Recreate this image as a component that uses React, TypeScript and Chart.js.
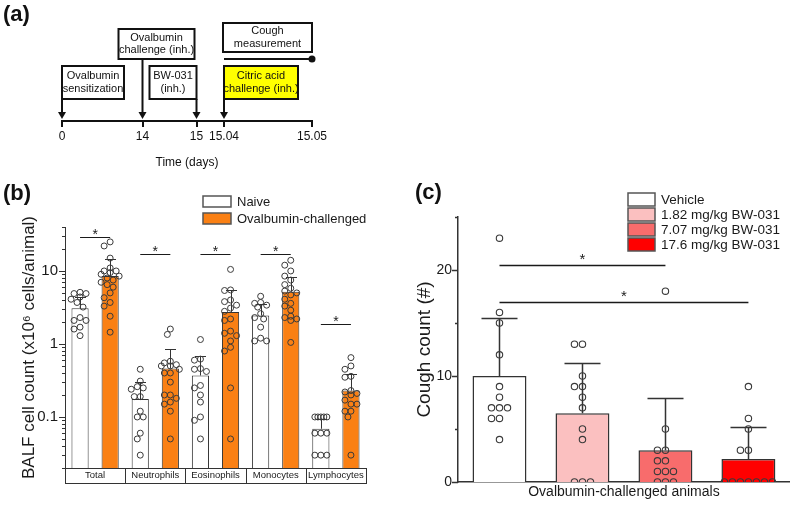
import React, { useEffect, useRef } from 'react';
import { Chart, registerables } from 'chart.js';

Chart.register(...registerables);

const FONT = "'Liberation Sans', Arial, Helvetica, sans-serif";
Chart.defaults.font.family = FONT;
Chart.defaults.color = '#1a1a1a';

// ================= DATA =================
// Panel (a): timeline
const timelineTickLabels = ['0', '14', '15', '15.04', '15.05'];
const timelineAxisTitle = 'Time (days)';
const sensitizationText = ['Ovalbumin', 'sensitization'];
const challengeText = ['Ovalbumin', 'challenge (inh.)'];
const drugText = ['BW-031', '(inh.)'];
const citricText = ['Citric acid', 'challenge (inh.)'];
const coughMeasureText = ['Cough', 'measurement'];

// Panel (b): BALF cell counts (x10^6 cells/animal)
const cellTypes = ['Total', 'Neutrophils', 'Eosinophils', 'Monocytes', 'Lymphocytes'];
const groupLabelsB = ['Naive', 'Ovalbumin-challenged'];
const naiveMeans = [3.08, 0.176, 0.37, 2.45, 0.069];
const naiveErrUpper = [4.4, 0.3, 0.68, 3.5, 0.095];
const ovaMeans = [8.55, 0.46, 2.75, 5.2, 0.23];
const ovaErrUpper = [14.4, 0.85, 5.5, 8.3, 0.39];
const naivePoints = [
  [5.1, 4.9, 4.9, 4.4, 4.1, 3.7, 3.2, 2.3, 2.1, 2.1, 1.7, 1.6, 1.3],
  [0.45, 0.31, 0.26, 0.25, 0.24, 0.19, 0.19, 0.12, 0.1, 0.1, 0.06, 0.05, 0.03],
  [1.15, 0.62, 0.6, 0.46, 0.45, 0.42, 0.27, 0.25, 0.2, 0.16, 0.1, 0.09, 0.05],
  [4.5, 3.7, 3.6, 3.4, 3.2, 2.6, 2.3, 2.2, 1.7, 1.2, 1.1, 1.1],
  [0.1, 0.1, 0.1, 0.1, 0.1, 0.06, 0.06, 0.06, 0.03, 0.03, 0.03],
];
const ovaPoints = [
  [25, 22, 15, 11, 10, 10, 9.5, 9, 8.5, 8, 7.5, 7, 6.5, 6, 5, 4.3, 3.7, 3.3, 2.4, 1.45],
  [1.6, 1.35, 0.58, 0.55, 0.52, 0.5, 0.5, 0.45, 0.4, 0.4, 0.3, 0.2, 0.2, 0.18, 0.16, 0.15, 0.12, 0.05],
  [10.5, 5.5, 5.4, 4.0, 3.8, 3.4, 3.1, 2.8, 2.2, 2.1, 1.5, 1.4, 1.3, 1.1, 0.9, 0.8, 0.25, 0.05],
  [14, 12, 10, 8.5, 7.5, 6.5, 5.8, 5.3, 5, 4.7, 4.1, 3.6, 3.3, 2.9, 2.4, 2.3, 2.2, 2.1, 1.05],
  [0.65, 0.5, 0.45, 0.36, 0.35, 0.23, 0.22, 0.21, 0.2, 0.17, 0.15, 0.15, 0.12, 0.12, 0.1, 0.03],
];
const cellYTickLabels = [0.1, 1, 10];
const cellYRange = [0.02, 40];
const cellSigHeights = [29, 17, 17, 17, 1.9];
const cellYTitle = 'BALF cell count (x10\u2076 cells/animal)';

// Panel (c): cough counts
const coughGroups = ['Vehicle', '1.82 mg/kg BW-031', '7.07 mg/kg BW-031', '17.6 mg/kg BW-031'];
const coughMeans = [10, 6.48, 2.99, 2.17];
const coughErrUpper = [15.5, 11.26, 7.96, 5.22];
const coughPoints = [
  [23, 16, 15, 12, 9, 8, 7, 7, 7, 6, 6, 4],
  [13, 13, 10, 9, 9, 8, 7, 5, 4, 0, 0, 0],
  [18, 5, 3, 3, 2, 2, 1, 1, 1, 0, 0, 0],
  [9, 6, 5, 3, 3, 0, 0, 0, 0, 0, 0, 0],
];
const coughYTickLabels = [0, 10, 20];
const coughYRange = [0, 25];
const coughSigFrom = [0, 0];
const coughSigTo = [2, 3];
const coughSigHeights = [20.5, 17];
const coughYTitle = 'Cough count (#)';
const coughXTitle = 'Ovalbumin-challenged animals';

// ================= STYLES =================
const ORANGE = '#FA8014';
const coughColors = ['#FFFFFF', '#FBC0C0', '#F86C6C', '#FF0000'];
const EDGE = '#333333';

// ================= PLUGINS (closure-configured) =================
function panelLabelPlugin(text: string, x: number, y: number) {
  return {
    id: 'panelLabel',
    afterDraw(chart: any) {
      const ctx = chart.ctx;
      ctx.save();
      ctx.font = `bold 22px ${FONT}`;
      ctx.fillStyle = '#111';
      ctx.textAlign = 'left';
      ctx.textBaseline = 'middle';
      ctx.fillText(text, x, y);
      ctx.restore();
    },
  };
}

const swarmPlugin = {
  id: 'swarm',
  afterDatasetsUpdate(chart: any) {
    chart.data.datasets.forEach((ds: any, i: number) => {
      const sw = ds.swarm;
      if (!sw) return;
      const barEl = chart.getDatasetMeta(sw.bar).data[sw.index];
      if (!barEl) return;
      const cx = barEl.x;
      const meta = chart.getDatasetMeta(i);
      const placed: { x: number; y: number }[] = [];
      meta.data.forEach((el: any) => {
        let best = 0;
        let bestScore = -Infinity;
        for (let k = 0; k <= sw.maxK * 2; k++) {
          const off = k === 0 ? 0 : (k % 2 ? -1 : 1) * Math.ceil(k / 2) * sw.step;
          const minD = placed.reduce((m, p) => Math.min(m, Math.hypot(p.x - off, p.y - el.y)), Infinity);
          if (minD >= sw.dist) {
            best = off;
            break;
          }
          if (minD > bestScore) {
            bestScore = minD;
            best = off;
          }
        }
        placed.push({ x: best, y: el.y });
        el.x = cx + best;
      });
    });
  },
};

const errorBarPlugin = {
  id: 'errorBars',
  afterDatasetDraw(chart: any, args: any) {
    const ds = chart.data.datasets[args.index];
    if (!ds.errorUpper) return;
    const meta = args.meta;
    const ys = chart.scales[meta.yAxisID];
    const ctx = chart.ctx;
    ctx.save();
    ctx.strokeStyle = ds.errorColor || EDGE;
    ctx.lineWidth = ds.errorWidth || 1;
    meta.data.forEach((el: any, j: number) => {
      const top = Math.round(ys.getPixelForValue(ds.errorUpper[j])) + 0.5;
      const x = Math.round(el.x) + 0.5;
      const cap = ds.errorCap || 10;
      ctx.beginPath();
      ctx.moveTo(x, el.y);
      ctx.lineTo(x, top);
      ctx.moveTo(x - cap / 2, top);
      ctx.lineTo(x + cap / 2, top);
      ctx.stroke();
    });
    ctx.restore();
  },
};

function sigPlugin(o: any) {
  return {
    id: 'sig',
    afterDatasetsDraw(chart: any) {
      const ys = chart.scales.y;
      const ctx = chart.ctx;
      ctx.save();
      ctx.strokeStyle = o.color;
      ctx.fillStyle = o.color;
      ctx.lineWidth = o.lineWidth;
      ctx.font = `${o.fontSize}px ${FONT}`;
      ctx.textAlign = 'center';
      ctx.textBaseline = 'alphabetic';
      for (const it of o.items) {
        const x1 = chart.getDatasetMeta(it.a[0]).data[it.a[1]].x;
        const x2 = chart.getDatasetMeta(it.b[0]).data[it.b[1]].x;
        const y = Math.round(ys.getPixelForValue(it.y)) + 0.5;
        ctx.beginPath();
        ctx.moveTo(x1, y);
        ctx.lineTo(x2, y);
        ctx.stroke();
        ctx.fillText('*', (x1 + x2) / 2, y - o.starOffset + 0.55 * o.fontSize);
      }
      ctx.restore();
    },
  };
}

function boxLegendPlugin(o: any) {
  return {
    id: 'boxLegend',
    afterDraw(chart: any) {
      let items: { text: string; fill: string }[];
      if (o.source === 'labels') {
        const ds = chart.data.datasets[0];
        items = chart.data.labels.map((l: string, i: number) => ({ text: l, fill: ds.backgroundColor[i] }));
      } else {
        items = chart.data.datasets
          .filter((d: any) => !d.type)
          .map((d: any) => ({ text: d.label, fill: d.backgroundColor }));
      }
      const ctx = chart.ctx;
      ctx.save();
      ctx.font = `${o.fontSize}px ${FONT}`;
      ctx.textAlign = 'left';
      ctx.textBaseline = 'middle';
      items.forEach((it, i) => {
        const y = o.y + i * o.step;
        ctx.fillStyle = it.fill;
        ctx.fillRect(o.x, y, o.w, o.h);
        ctx.strokeStyle = '#555';
        ctx.lineWidth = 1.5;
        ctx.strokeRect(o.x, y, o.w, o.h);
        ctx.fillStyle = '#1a1a1a';
        ctx.fillText(it.text, o.x + o.w + o.gap, y + o.h / 2 + 0.5);
      });
      ctx.restore();
    },
  };
}

function axisTicksPlugin(o: any) {
  return {
    id: 'axisTicks',
    afterDraw(chart: any) {
      const s = chart.scales.y;
      const ctx = chart.ctx;
      ctx.save();
      ctx.strokeStyle = o.color;
      ctx.lineWidth = o.width;
      ctx.beginPath();
      s.ticks.forEach((t: any) => {
        const y = Math.round(s.getPixelForValue(t.value)) + 0.5;
        const len = t.label !== '' && t.label != null ? o.major : o.minor;
        ctx.moveTo(s.right, y);
        ctx.lineTo(s.right - len, y);
      });
      ctx.stroke();
      ctx.restore();
    },
  };
}

function catBoxesPlugin(o: any) {
  return {
    id: 'catBoxes',
    afterDraw(chart: any) {
      const xs = chart.scales.x;
      const n = chart.data.labels.length;
      const w = (xs.right - xs.left) / n;
      const ctx = chart.ctx;
      const top = Math.round(chart.chartArea.bottom) + 0.5;
      ctx.save();
      ctx.strokeStyle = o.color;
      ctx.lineWidth = 1;
      for (let i = 0; i < n; i++) {
        const c = xs.getPixelForValue(i);
        const l = Math.round(c - w / 2) + 0.5;
        const r = Math.round(c + w / 2) + 0.5;
        ctx.strokeRect(l, top, r - l, o.height);
      }
      ctx.restore();
    },
  };
}

function timelinePlugin(o: any) {
  return {
    id: 'timeline',
    afterDraw(chart: any) {
      const xs = chart.scales.x;
      const base = chart.chartArea.bottom;
      const tx = (i: number) => xs.getPixelForValue(xs.ticks[i].value);
      const ctx = chart.ctx;
      ctx.save();
      ctx.lineCap = 'butt';
      const arrow = (x: number, yFrom: number) => {
        const tip = base - 2;
        ctx.strokeStyle = '#111';
        ctx.fillStyle = '#111';
        ctx.lineWidth = 2;
        ctx.beginPath();
        ctx.moveTo(x, yFrom);
        ctx.lineTo(x, tip - 6);
        ctx.stroke();
        ctx.beginPath();
        ctx.moveTo(x - 4, tip - 7);
        ctx.lineTo(x + 4, tip - 7);
        ctx.lineTo(x, tip);
        ctx.closePath();
        ctx.fill();
      };
      for (const b of o.boxes) {
        const ax = tx(b.anchor);
        const left = ax + b.x0;
        const right = (b.anchorEnd !== undefined ? tx(b.anchorEnd) : ax) + b.x1;
        const top = base + b.y0;
        const bottom = base + b.y1;
        ctx.fillStyle = b.fill;
        ctx.fillRect(left, top, right - left, bottom - top);
        ctx.strokeStyle = '#111';
        ctx.lineWidth = 2;
        ctx.strokeRect(left, top, right - left, bottom - top);
        ctx.fillStyle = '#111';
        ctx.font = `11px ${FONT}`;
        ctx.textAlign = 'center';
        ctx.textBaseline = 'middle';
        const cy = (top + bottom) / 2;
        const lh = 12.5;
        b.lines.forEach((t: string, k: number) => {
          ctx.fillText(t, (left + right) / 2, cy + (k - (b.lines.length - 1) / 2) * lh);
        });
        if (b.arrow) arrow(ax, bottom);
      }
      const x1 = tx(o.span.from);
      const x2 = tx(o.span.to);
      const y = base + o.span.dy;
      ctx.strokeStyle = '#111';
      ctx.lineWidth = 2;
      ctx.beginPath();
      ctx.moveTo(x1, y);
      ctx.lineTo(x2, y);
      ctx.stroke();
      ctx.fillStyle = '#111';
      ctx.beginPath();
      ctx.arc(x2, y, 3.5, 0, Math.PI * 2);
      ctx.fill();
      ctx.restore();
    },
  };
}

function logTicks(min: number, max: number) {
  const out: any[] = [];
  for (let e = Math.floor(Math.log10(min)); e <= Math.ceil(Math.log10(max)); e++) {
    for (let m = 1; m <= 9; m++) {
      const v = parseFloat((m * Math.pow(10, e)).toPrecision(6));
      if (v >= min - 1e-12 && v <= max + 1e-9) out.push({ value: v, major: m === 1 });
    }
  }
  return out;
}

const baseOptions = {
  responsive: false,
  maintainAspectRatio: false,
  animation: false,
  devicePixelRatio: 1,
  events: [],
};

// ================= CONFIGS =================
function configA(): any {
  return {
    type: 'scatter',
    data: { datasets: [] },
    plugins: [
      timelinePlugin({
        boxes: [
          { lines: sensitizationText, anchor: 0, x0: 0, x1: 62, y0: -55, y1: -22, arrow: true, fill: '#FFFFFF' },
          { lines: challengeText, anchor: 1, x0: -24, x1: 52, y0: -92, y1: -62, arrow: true, fill: '#FFFFFF' },
          { lines: drugText, anchor: 2, x0: -47, x1: 0, y0: -55, y1: -22, arrow: true, fill: '#FFFFFF' },
          { lines: citricText, anchor: 3, x0: 0, x1: 74, y0: -55, y1: -22, arrow: true, fill: '#FFFF00' },
          { lines: coughMeasureText, anchor: 3, anchorEnd: 4, x0: -1, x1: 0, y0: -98, y1: -69, arrow: false, fill: '#FFFFFF' },
        ],
        span: { from: 3, to: 4, dy: -62 },
      }),
      panelLabelPlugin('(a)', 3, 15),
    ],
    options: {
      ...baseOptions,
      layout: { padding: { left: 62, right: 88, top: 0, bottom: 0 } },
      plugins: { legend: { display: false }, tooltip: { enabled: false } },
      scales: {
        x: {
          type: 'linear',
          min: 0,
          max: 250,
          afterBuildTicks: (s: any) => {
            // schematic (non-proportional) spacing of the timeline events
            s.ticks = [0, 80.5, 134.5, 162, 250].map((v) => ({ value: v }));
          },
          afterFit: (s: any) => {
            s.height = 54;
          },
          ticks: {
            autoSkip: false,
            maxRotation: 0,
            font: { size: 12 },
            color: '#111',
            padding: 2,
            callback: (_v: any, i: number) => timelineTickLabels[i],
          },
          grid: { display: true, drawOnChartArea: false, drawTicks: true, tickLength: 6, color: '#111', lineWidth: 2 },
          border: { display: true, color: '#111', width: 2 },
          title: { display: true, text: timelineAxisTitle, font: { size: 12 }, color: '#111', padding: { top: 0, bottom: 5 } },
        },
        y: { display: false, min: 0, max: 1 },
      },
    },
  };
}

function configB(): any {
  const scatterStyle = {
    type: 'scatter',
    pointRadius: 3,
    pointBorderWidth: 1,
    pointBorderColor: '#3a3a3a',
    pointBackgroundColor: 'rgba(0,0,0,0)',
    order: 1,
  };
  const swarm = { step: 3, maxK: 3, dist: 6 };
  return {
    type: 'bar',
    data: {
      labels: cellTypes,
      datasets: [
        {
          label: groupLabelsB[0],
          data: naiveMeans,
          backgroundColor: '#FFFFFF',
          borderColor: EDGE,
          borderWidth: 1,
          barPercentage: 0.57,
          categoryPercentage: 1,
          errorUpper: naiveErrUpper,
          errorCap: 11,
          order: 2,
        },
        {
          label: groupLabelsB[1],
          data: ovaMeans,
          backgroundColor: ORANGE,
          borderColor: EDGE,
          borderWidth: 1,
          barPercentage: 0.57,
          categoryPercentage: 1,
          errorUpper: ovaErrUpper,
          errorCap: 11,
          order: 2,
        },
        ...naivePoints.map((pts, ci) => ({
          ...scatterStyle,
          data: pts.map((v) => ({ x: ci, y: v })),
          swarm: { ...swarm, bar: 0, index: ci },
        })),
        ...ovaPoints.map((pts, ci) => ({
          ...scatterStyle,
          data: pts.map((v) => ({ x: ci, y: v })),
          swarm: { ...swarm, bar: 1, index: ci },
        })),
      ],
    },
    plugins: [
      swarmPlugin,
      errorBarPlugin,
      sigPlugin({
        items: cellSigHeights.map((h, ci) => ({ a: [0, ci], b: [1, ci], y: h })),
        color: '#1a1a1a',
        lineWidth: 1,
        fontSize: 14,
        starOffset: 6,
      }),
      boxLegendPlugin({ source: 'datasets', x: 203, y: 26, w: 28, h: 11, step: 17, gap: 6, fontSize: 13 }),
      axisTicksPlugin({ major: 6, minor: 3, width: 1, color: EDGE }),
      catBoxesPlugin({ height: 15, color: EDGE }),
      panelLabelPlugin('(b)', 3, 24),
    ],
    options: {
      ...baseOptions,
      layout: { padding: { left: 0, right: 14, top: 57, bottom: 0 } },
      plugins: { legend: { display: false }, tooltip: { enabled: false } },
      scales: {
        x: {
          ticks: { font: { size: 9.5 }, color: '#1a1a1a', padding: 2, autoSkip: false, maxRotation: 0 },
          grid: { display: false, drawTicks: false },
          border: { display: true, color: EDGE, width: 1 },
          afterFit: (s: any) => {
            s.height = 37;
          },
        },
        y: {
          type: 'logarithmic',
          min: cellYRange[0],
          max: cellYRange[1],
          afterBuildTicks: (s: any) => {
            s.ticks = logTicks(cellYRange[0], cellYRange[1]);
          },
          afterFit: (s: any) => {
            s.width = 65;
          },
          ticks: {
            autoSkip: false,
            font: { size: 15 },
            color: '#1a1a1a',
            padding: 7,
            callback: (v: number) => {
              const m = cellYTickLabels.find((t) => Math.abs(t - v) / t < 1e-6);
              return m !== undefined ? String(m) : '';
            },
          },
          grid: { display: false, drawTicks: false },
          border: { display: true, color: EDGE, width: 1 },
          title: { display: true, text: cellYTitle, font: { size: 17 }, color: '#1a1a1a', padding: { top: 19, bottom: 0 } },
        },
      },
    },
  };
}

function configC(): any {
  const scatterStyle = {
    type: 'scatter',
    pointRadius: 3.2,
    pointBorderWidth: 1.1,
    pointBorderColor: '#3a3a3a',
    pointBackgroundColor: 'rgba(0,0,0,0)',
    order: 1,
  };
  return {
    type: 'bar',
    data: {
      labels: coughGroups,
      datasets: [
        {
          data: coughMeans,
          backgroundColor: coughColors,
          borderColor: EDGE,
          borderWidth: 1.5,
          barPercentage: 0.65,
          categoryPercentage: 1,
          errorUpper: coughErrUpper,
          errorCap: 36,
          errorWidth: 1.5,
          order: 2,
        },
        ...coughPoints.map((pts, gi) => ({
          ...scatterStyle,
          data: pts.map((v) => ({ x: gi, y: v })),
          swarm: { step: 8, maxK: 3, dist: 8, bar: 0, index: gi },
        })),
      ],
    },
    plugins: [
      swarmPlugin,
      errorBarPlugin,
      sigPlugin({
        items: coughSigHeights.map((h, k) => ({ a: [0, coughSigFrom[k]], b: [0, coughSigTo[k]], y: h })),
        color: '#1a1a1a',
        lineWidth: 1.5,
        fontSize: 15,
        starOffset: 10,
      }),
      boxLegendPlugin({ source: 'labels', x: 248, y: 23, w: 27, h: 13, step: 15, gap: 6, fontSize: 13.5 }),
      axisTicksPlugin({ major: 6, minor: 3, width: 1.5, color: EDGE }),
      panelLabelPlugin('(c)', 35, 23),
    ],
    options: {
      ...baseOptions,
      layout: { padding: { left: 0, right: 3, top: 47, bottom: 0 } },
      plugins: { legend: { display: false }, tooltip: { enabled: false } },
      scales: {
        x: {
          ticks: { display: false },
          grid: { display: false, drawTicks: false },
          border: { display: true, color: EDGE, width: 1.5 },
          title: { display: true, text: coughXTitle, font: { size: 14 }, color: '#1a1a1a', padding: { top: 0, bottom: 4 } },
          afterFit: (s: any) => {
            s.height = 23;
          },
        },
        y: {
          min: coughYRange[0],
          max: coughYRange[1],
          afterFit: (s: any) => {
            s.width = 78;
          },
          ticks: {
            stepSize: 5,
            autoSkip: false,
            font: { size: 14 },
            color: '#1a1a1a',
            padding: 6,
            callback: (v: number) => (coughYTickLabels.includes(v) ? String(v) : ''),
          },
          grid: { display: false, drawTicks: false },
          border: { display: true, color: EDGE, width: 1.5 },
          title: { display: true, text: coughYTitle, font: { size: 19 }, color: '#1a1a1a', padding: { top: 33, bottom: 0 } },
        },
      },
    },
  };
}

export default function App() {
  const aRef = useRef<HTMLCanvasElement>(null);
  const bRef = useRef<HTMLCanvasElement>(null);
  const cRef = useRef<HTMLCanvasElement>(null);

  useEffect(() => {
    const charts = [
      new Chart(aRef.current as HTMLCanvasElement, configA()),
      new Chart(bRef.current as HTMLCanvasElement, configB()),
      new Chart(cRef.current as HTMLCanvasElement, configC()),
    ];
    return () => charts.forEach((c) => c.destroy());
  }, []);

  return (
    <div style={{ position: 'absolute', left: 0, top: 0, width: 795, height: 505, background: '#fff', overflow: 'hidden' }}>
      <canvas ref={aRef} width={400} height={175} style={{ position: 'absolute', left: 0, top: 0, width: 400, height: 175 }} />
      <canvas ref={bRef} width={380} height={335} style={{ position: 'absolute', left: 0, top: 170, width: 380, height: 335 }} />
      <canvas ref={cRef} width={415} height={335} style={{ position: 'absolute', left: 380, top: 170, width: 415, height: 335 }} />
    </div>
  );
}
